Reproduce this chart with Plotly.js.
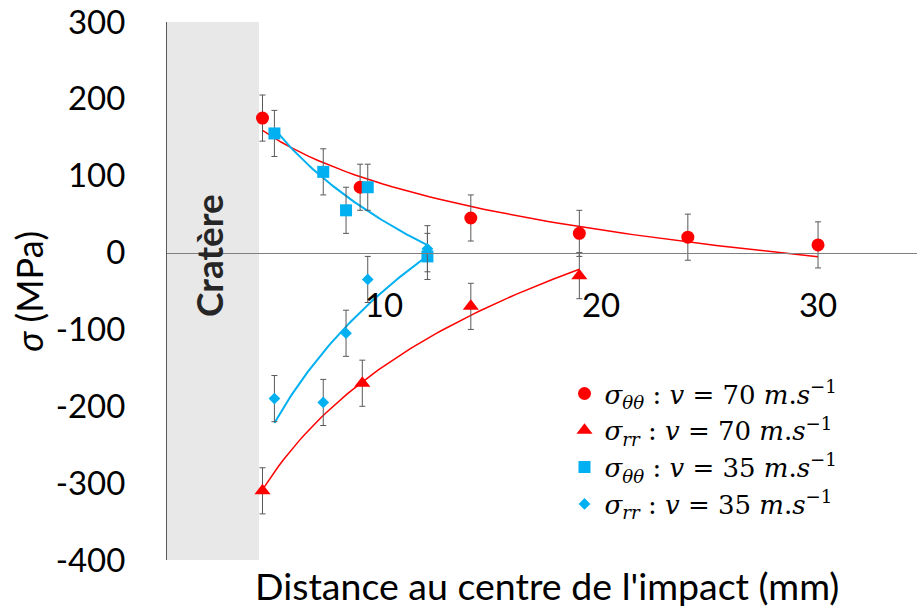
<!DOCTYPE html>
<html>
<head>
<meta charset="utf-8">
<script src="https://cdn.plot.ly/plotly-3.0.1.min.js"></script>
<style>html,body{margin:0;padding:0;background:#fff;}#chart{width:917px;height:610px;}</style>
</head>
<body>
<div id="chart"></div>
<script>
// Data
var xTT70 = [4.4, 8.9, 14, 19, 24, 30];
var yTT70 = [175, 85, 45, 25, 20, 10];
var eTT70 = [30, 30, 30, 30, 30, 30];

var xRR70 = [4.4, 9, 14, 19];
var yRR70 = [-310, -170, -70, -30];
var eRR70 = [30, 30, 30, 30];

var xTT35 = [4.95, 7.2, 8.25, 9.25, 12];
var yTT35 = [155, 105, 55, 85, -5];
var eTT35 = [30, 30, 30, 30, 30];

var xRR35 = [4.95, 7.2, 8.25, 9.25, 12];
var yRR35 = [-190, -195, -105, -35, 5];
var eRR35 = [30, 30, 30, 30, 30];

var legendNames = [
  '<i>σ<sub>θθ</sub></i> : <i>v</i> = 70 <i>m</i>.<i>s</i><sup>−1</sup>',
  '<i>σ<sub>rr</sub></i> : <i>v</i> = 70 <i>m</i>.<i>s</i><sup>−1</sup>',
  '<i>σ<sub>θθ</sub></i> : <i>v</i> = 35 <i>m</i>.<i>s</i><sup>−1</sup>',
  '<i>σ<sub>rr</sub></i> : <i>v</i> = 35 <i>m</i>.<i>s</i><sup>−1</sup>'
];
var xTicks = [10, 20, 30];
var yTicks = [-400, -300, -200, -100, 0, 100, 200, 300];

var RED = '#FF0000', BLUE = '#00B0F0', ERR = '#595959';

// Logarithmic least-squares trendline (as the spreadsheet trendline) from the data
function logFit(xs, ys) {
  var n = xs.length, lx = xs.map(Math.log);
  var mx = lx.reduce(function(a, b){return a + b;}, 0) / n;
  var my = ys.reduce(function(a, b){return a + b;}, 0) / n;
  var sxy = 0, sxx = 0;
  for (var i = 0; i < n; i++) { sxy += (lx[i] - mx) * (ys[i] - my); sxx += (lx[i] - mx) * (lx[i] - mx); }
  var a = sxy / sxx, b = my - a * mx;
  var x0 = Math.min.apply(null, xs), x1 = Math.max.apply(null, xs);
  var fx = [], fy = [];
  for (var k = 0; k <= 60; k++) { var x = x0 + (x1 - x0) * k / 60; fx.push(x); fy.push(a * Math.log(x) + b); }
  return {x: fx, y: fy};
}

function fitTrace(xs, ys, color, w) {
  var f = logFit(xs, ys);
  return {x: f.x, y: f.y, mode: 'lines', line: {color: color, width: w}, showlegend: false, hoverinfo: 'skip'};
}
function ptTrace(xs, ys, es, color, symbol, size, name) {
  return {x: xs, y: ys, mode: 'markers', name: name,
    marker: {color: color, symbol: symbol, size: size},
    error_y: {type: 'data', array: es, visible: true, color: ERR, thickness: 1, width: 3}};
}

var data = [
  fitTrace(xTT70, yTT70, RED, 1.5),
  fitTrace(xRR70, yRR70, RED, 1.5),
  fitTrace(xTT35, yTT35, BLUE, 2),
  fitTrace(xRR35, yRR35, BLUE, 2),
  ptTrace(xTT70, yTT70, eTT70, RED, 'circle', 13, legendNames[0]),
  ptTrace(xRR70, yRR70, eRR70, RED, 'triangle-up', 14, legendNames[1]),
  ptTrace(xTT35, yTT35, eTT35, BLUE, 'square', 12, legendNames[2]),
  ptTrace(xRR35, yRR35, eRR35, BLUE, 'diamond', 9, legendNames[3])
];

var layout = {
  width: 917, height: 610,
  margin: {l: 167, r: 0, t: 22, b: 50},
  paper_bgcolor: '#fff', plot_bgcolor: 'rgba(0,0,0,0)',
  font: {family: 'Lato, sans-serif', color: '#000'},
  showlegend: true,
  xaxis: {
    range: [0, 34.56], tickvals: xTicks, ticktext: xTicks.map(String),
    showgrid: false, zeroline: false,
    anchor: 'free', position: 4 / 7,
    showline: true, linecolor: '#7F7F7F', linewidth: 1.5,
    ticks: '', ticklabelstandoff: 23,
    tickfont: {family: 'Lato, sans-serif', size: 33, color: '#000'}
  },
  yaxis: {
    range: [-400, 300], tickvals: yTicks, ticktext: yTicks.map(String),
    showgrid: false, zeroline: false,
    showline: true, linecolor: '#595959', linewidth: 1,
    ticks: '', ticklabelstandoff: 34,
    tickfont: {family: 'Lato, sans-serif', size: 33, color: '#000'}
  },
  legend: {
    x: 0.53, y: 0.353, xanchor: 'left', yanchor: 'top',
    bgcolor: 'rgba(0,0,0,0)', borderwidth: 0,
    font: {family: '"DejaVu Serif", serif', size: 26, color: '#000'},
    tracegroupgap: 0
  },
  shapes: [{
    type: 'rect', xref: 'x', yref: 'paper', x0: 0, x1: 4.24, y0: 0, y1: 1,
    fillcolor: '#E8E8E8', line: {width: 0}, layer: 'below'
  }],
  annotations: [
    {text: 'Cratère', xref: 'x', yref: 'paper', x: 1.89, y: 0.565, textangle: -90,
     showarrow: false, xanchor: 'center', yanchor: 'middle',
     font: {family: 'Lato, sans-serif', size: 37, color: '#262626', weight: 'bold'}},
    {text: '<i>σ</i> (MPa)', xref: 'paper', yref: 'paper', x: -0.184, y: 0.4987, textangle: -90,
     showarrow: false, xanchor: 'center', yanchor: 'middle',
     font: {family: 'Lato, sans-serif', size: 36, color: '#000'}},
    {text: "Distance au centre de l'impact (mm)", xref: 'paper', yref: 'paper', x: 0.506, y: -0.0465,
     showarrow: false, xanchor: 'center', yanchor: 'middle',
     font: {family: 'Lato, sans-serif', size: 37.5, color: '#000'}}
  ]
};

Plotly.newPlot('chart', data, layout, {displayModeBar: false, staticPlot: true});
</script>
</body>
</html>
